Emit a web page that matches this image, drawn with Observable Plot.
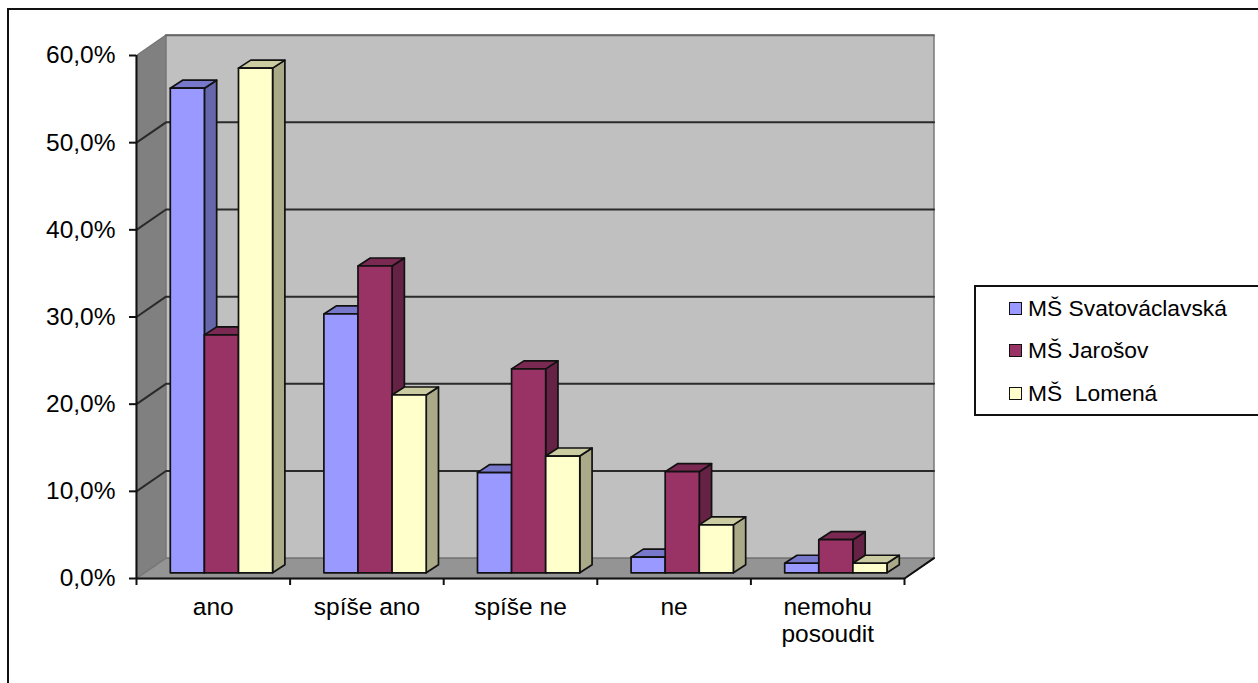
<!DOCTYPE html>
<html>
<head>
<meta charset="utf-8">
<script src="https://cdn.jsdelivr.net/npm/d3@7"></script>
<script src="https://cdn.jsdelivr.net/npm/@observablehq/plot@0.6"></script>
<style>
  html, body { margin: 0; padding: 0; background: #fff; }
  #page { position: relative; width: 1258px; height: 683px; overflow: hidden; font-family: "Liberation Sans", Arial, sans-serif; color: #000; }
  #frame { position: absolute; left: 7px; top: 8px; width: 1400px; height: 800px; border: 2px solid #111; }
  #chart { position: absolute; left: 0; top: 0; }
  #legend { position: absolute; left: 974px; top: 285px; width: 400px; height: 127px; border: 2px solid #111; background: #fff; box-sizing: content-box; }
  .row { position: absolute; left: 33px; height: 24px; display: flex; align-items: center; font-size: 22.8px; white-space: pre; }
  .sw { width: 11px; height: 11px; border: 1.5px solid #111; margin-right: 6px; flex: none; }
</style>
</head>
<body>
<div id="page">
  <div id="frame"></div>
  <div id="chart"></div>
  <div id="legend"></div>
</div>
<script>
const categories = ["ano", "spíše ano", "spíše ne", "ne", "nemohu\nposoudit"];
const seriesNames = ["MŠ Svatováclavská", "MŠ Jarošov", "MŠ  Lomená"];
const svatovaclavska = [55.6, 29.7, 11.5, 1.8, 1.1];
const jarosov = [27.3, 35.2, 23.4, 11.6, 3.8];
const lomena = [57.9, 20.4, 13.4, 5.5, 1.1];
const series = [svatovaclavska, jarosov, lomena];
const yTicks = [0, 10, 20, 30, 40, 50, 60];
const frontColors = ["#9999FF", "#993366", "#FFFFCC"];
const sideColors = ["#6666AA", "#662244", "#AAAA88"];
const topColors = ["#7777CC", "#7A2952", "#CCCCA3"];

// oblique projection, in data units
const wallX = 0.192, wallY = 2.33;   // depth of the room
const barX = 0.08, barY = 0.92;      // depth of one bar
const barInset = 0.22, barW = 0.222, baseY = 0.65;

const poly = (id, fill, pts) => pts.concat([pts[0]]).map(([x, y]) => ({id, fill, x, y}));

const walls = [
  ...poly("left", "#808080", [[0, 0], [wallX, wallY], [wallX, 60 + wallY], [0, 60]]),
  ...poly("back", "#C0C0C0", [[wallX, wallY], [5 + wallX, wallY], [5 + wallX, 60 + wallY], [wallX, 60 + wallY]]),
  ...poly("floor", "#949494", [[0, 0], [5, 0], [5 + wallX, wallY], [wallX, wallY]])
];

const faces = [];
categories.forEach((c, i) => {
  series.forEach((vals, s) => {
    const x0 = i + barInset + s * barW, x1 = x0 + barW;
    const y0 = baseY, y1 = baseY + vals[i];
    const k = `${i}-${s}`;
    faces.push(...poly(k + "side", sideColors[s], [[x1, y0], [x1 + barX, y0 + barY], [x1 + barX, y1 + barY], [x1, y1]]));
    faces.push(...poly(k + "top", topColors[s], [[x0, y1], [x1, y1], [x1 + barX, y1 + barY], [x0 + barX, y1 + barY]]));
    faces.push(...poly(k + "front", frontColors[s], [[x0, y0], [x1, y0], [x1, y1], [x0, y1]]));
  });
});

const gridTicks = yTicks.filter(t => t > 0 && t < 60);
const gridLines = gridTicks.flatMap(t => [
  {t, x: 0, y: t}, {t, x: wallX, y: t + wallY}, {t, x: 5 + wallX, y: t + wallY}
]);
const pct = d => d.toFixed(1).replace(".", ",") + "%";

const plot = Plot.plot({
  width: 1258,
  height: 683,
  marginLeft: 136,
  marginRight: 354,
  marginTop: 55,
  marginBottom: 105,
  style: {background: "transparent", fontFamily: "'Liberation Sans', Arial, sans-serif", fontSize: "24.5px", color: "#000"},
  x: {domain: [0, 5], label: null},
  y: {domain: [0, 60], label: null},
  color: {type: "identity"},
  marks: [
    Plot.line(walls, {x: "x", y: "y", z: "id", fill: "fill", stroke: "#777", strokeWidth: 1.5}),
    Plot.line(gridLines, {x: "x", y: "y", z: "t", stroke: "#2a2a2a", strokeWidth: 2}),
    Plot.line([{x: wallX, y: 60 + wallY}, {x: 5 + wallX, y: 60 + wallY}], {x: "x", y: "y", stroke: "#666", strokeWidth: 2}),
    Plot.line([{x: 5, y: 0}, {x: 5 + wallX, y: wallY}], {x: "x", y: "y", stroke: "#111", strokeWidth: 2}),
    Plot.line(faces, {x: "x", y: "y", z: "id", fill: "fill", stroke: "#111", strokeWidth: 1.7, strokeLinejoin: "round"}),
    Plot.ruleX([0], {stroke: "#111", strokeWidth: 2}),
    Plot.ruleY([0], {stroke: "#111", strokeWidth: 2}),
    Plot.axisY({ticks: yTicks, tickFormat: pct, tickSize: 7, tickPadding: 14, stroke: "#111", strokeWidth: 2, fontSize: 24.5, label: null}),
    Plot.axisX({ticks: [0, 1, 2, 3, 4, 5], tickFormat: () => "", tickSize: 7, stroke: "#111", strokeWidth: 2, label: null}),
    Plot.text(categories, {x: (d, i) => i + 0.5, y: 0, dy: 17, text: d => d, lineAnchor: "top", fontSize: 24.5, lineHeight: 1.12, fill: "#000"})
  ]
});
document.getElementById("chart").appendChild(plot);

const legend = document.getElementById("legend");
seriesNames.forEach((name, s) => {
  const row = document.createElement("div");
  row.className = "row";
  row.style.top = (9 + s * 42.5) + "px";
  const sw = document.createElement("span");
  sw.className = "sw";
  sw.style.background = frontColors[s];
  row.appendChild(sw);
  row.appendChild(document.createTextNode(name));
  legend.appendChild(row);
});
</script>
</body>
</html>
